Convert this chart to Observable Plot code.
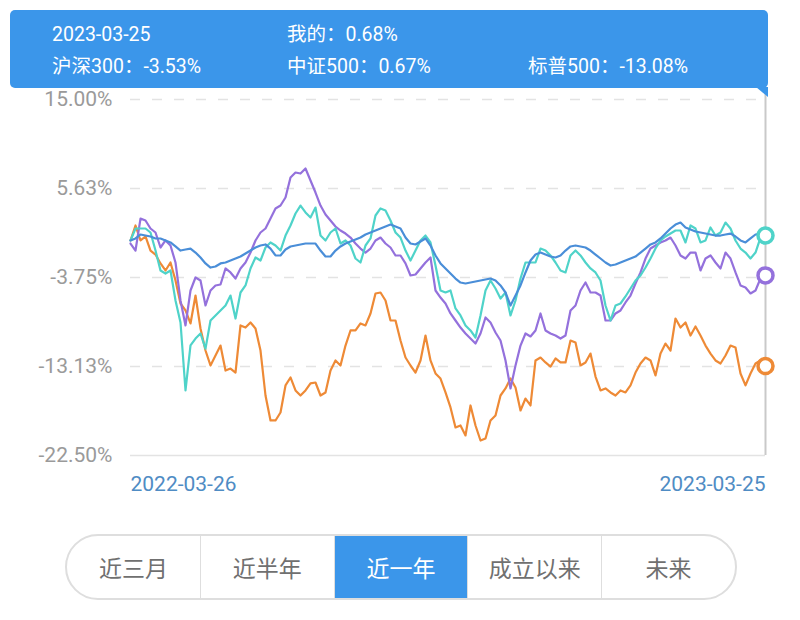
<!DOCTYPE html>
<html><head><meta charset="utf-8">
<script src="https://cdn.jsdelivr.net/npm/d3@7"></script>
<script src="https://cdn.jsdelivr.net/npm/@observablehq/plot@0.6"></script>
<style>
body{margin:0;background:#fff;font-family:Roboto,"Noto Sans CJK SC",sans-serif;}
#wrap{position:relative;width:800px;height:620px;overflow:hidden;background:#fff;}
#chart{position:absolute;left:0;top:0;}
#tip{position:absolute;left:10px;top:10px;width:758px;height:78px;background:#3b96ea;border-radius:5px;color:#fff;font-size:19.5px;z-index:2;}
#tip span{position:absolute;white-space:nowrap;line-height:20px;}
#tail{position:absolute;left:756px;top:87px;width:12px;height:10px;background:#3b96ea;clip-path:polygon(0 0,100% 0,100% 100%);z-index:2;}
#seg{position:absolute;left:65px;top:534px;width:672px;height:66px;border:2px solid #dedede;border-radius:33px;display:flex;overflow:hidden;box-sizing:border-box;}
#seg div{flex:1;display:flex;align-items:center;justify-content:center;font-size:23px;color:#707070;font-family:"Noto Sans CJK SC",sans-serif;border-left:1.5px solid #dedede;}
#seg div:first-child{border-left:none;}
#seg div.on{background:#3b96ea;color:#fff;}
</style></head>
<body><div id="wrap">
<div id="chart"></div>
<div id="tip"></div><div id="tail"></div>
<div id="seg"></div>
</div>
<script>
// ---- data ----
const startDate = "2022-03-26";
const endDate = "2023-03-25";
const tipDate = "2023-03-25";
const seriesNames = ["我的", "沪深300", "中证500", "标普500"];
const seriesColors = ["#4a8ed8", "#9471dc", "#4fd3c9", "#ee8a36"];
const finalValues = [0.68, -3.53, 0.67, -13.08];
const yTicks = [15.00, 5.63, -3.75, -13.13, -22.50];
const periodButtons = ["近三月", "近半年", "近一年", "成立以来", "未来"];
const activeButton = "近一年";

const mine = [0.15,0.36,0.78,0.67,0.57,0.36,0.36,0.15,-0.06,-0.48,
 -0.91,-0.8,-0.7,-1.12,-1.64,-2.27,-2.7,-2.59,-2.27,-2.17,
 -1.96,-1.75,-1.54,-1.22,-0.91,-0.59,-0.38,-0.27,-0.7,-1.43,
 -1.43,-0.8,-0.48,-0.38,-0.27,-0.17,-0.17,-0.17,-0.91,-1.54,
 -1.54,-0.91,-0.48,-0.17,0.04,0.25,0.46,0.78,0.99,1.2,
 1.41,1.62,1.83,1.62,1.41,0.46,-0.17,-0.27,0.04,0.36,
 -0.38,-1.43,-2.27,-2.8,-3.33,-3.86,-4.28,-4.38,-4.28,-4.17,
 -4.07,-3.96,-3.86,-4.07,-4.59,-5.33,-6.7,-5.65,-4.59,-3.22,
 -1.96,-1.33,-1.12,-1.33,-1.54,-1.64,-1.43,-0.91,-0.48,-0.38,
 -0.48,-0.59,-0.91,-1.33,-1.75,-2.17,-2.49,-2.38,-2.17,-1.96,
 -1.75,-1.54,-1.12,-0.7,-0.27,-0.06,0.36,0.88,1.41,1.83,
 2.04,1.52,1.31,1.1,0.99,0.88,0.78,0.67,0.67,0.78,
 0.88,0.57,0.15,-0.06,0.36,0.78,0.88,0.68];

const hs300 = [-0.17,-0.91,2.46,2.25,1.41,0.99,-0.59,0.15,-0.38,-2.17,
 -6.17,-8.8,-5.12,-3.75,-4.07,-6.7,-5.12,-4.59,-4.49,-2.8,
 -3.22,-3.86,-2.8,-2.17,-1.12,0.15,0.99,1.41,2.46,3.52,
 3.83,4.68,6.78,7.31,7.2,7.73,6.47,5.2,3.83,2.89,
 2.25,1.62,1.2,0.88,0.46,-0.17,-0.7,-1.12,-0.7,0.15,
 0.46,-0.17,-0.59,-1.43,-1.43,-2.27,-3.54,-3.43,-2.8,-2.17,
 -1.64,-5.12,-5.86,-6.49,-7.54,-8.28,-9.02,-9.65,-10.18,-10.71,
 -9.65,-7.96,-8.49,-9.54,-10.39,-12.49,-15.44,-13.02,-10.92,-9.65,
 -9.96,-9.33,-7.54,-9.33,-9.65,-9.86,-10.18,-9.86,-7.22,-6.7,
 -5.12,-4.28,-5.33,-5.33,-5.65,-8.28,-8.28,-7.54,-7.22,-6.38,
 -5.65,-4.38,-3.22,-1.75,-0.7,-0.38,-0.06,0.15,0.46,-0.38,
 -1.43,-1.75,-1.12,-1.12,-3.01,-1.75,-1.43,-2.17,-2.8,-1.12,
 -1.75,-3.22,-4.59,-4.8,-5.43,-5.12,-3.86,-3.53];

const zz500 = [0.15,1.41,1.41,1.41,0.99,-0.91,-3.01,-3.33,-3.01,-6.17,
 -8.49,-15.65,-10.9,-10.18,-9.65,-11.24,-8.28,-7.75,-7.22,-6.7,
 -5.65,-8.07,-5.33,-4.59,-2.8,-1.64,-1.96,-0.59,-0.06,-0.38,
 -0.91,0.67,1.73,2.99,3.83,3.1,2.57,3.62,0.67,0.15,
 0.99,1.41,-0.17,0.15,-0.38,-1.75,-2.17,-0.38,0.36,2.78,
 3.52,3.31,2.25,0.99,0.46,-0.91,-1.96,-0.91,0.15,0.67,
 -0.06,-2.49,-5.12,-5.33,-5.12,-7.01,-7.75,-8.8,-9.33,-10.07,
 -7.75,-5.12,-4.07,-4.91,-5.96,-5.33,-7.75,-6.17,-3.86,-2.17,
 -2.17,-2.17,-0.7,-0.91,-1.43,-2.17,-3.01,-3.22,-1.43,-0.91,
 -1.43,-2.17,-2.8,-3.22,-4.07,-6.7,-8.28,-6.7,-6.49,-5.75,
 -4.91,-4.07,-3.54,-2.7,-1.75,-0.7,0.15,0.57,0.88,1.2,
 1.2,-0.06,1.73,1.41,-0.06,0.15,1.52,0.67,0.99,2.04,
 1.41,0.15,-0.7,-1.12,-1.75,-1.12,0.46,0.67];

const sp500 = [0.15,1.73,0.15,0.57,-0.91,-1.33,-2.27,-3.01,-2.17,-4.07,
 -6.49,-7.22,-8.59,-5.65,-9.12,-11.44,-13.02,-11.97,-10.92,-13.55,
 -13.34,-13.76,-8.8,-9.02,-8.49,-9.12,-11.44,-16.18,-18.81,-18.81,
 -17.97,-15.12,-14.28,-15.65,-16.18,-15.65,-14.91,-14.81,-16.18,-15.86,
 -13.55,-12.49,-13.02,-10.92,-9.33,-9.33,-8.59,-8.8,-7.54,-5.44,
 -5.33,-6.17,-8.28,-8.28,-10.39,-12.18,-13.02,-13.76,-12.49,-9.86,
 -12.49,-13.86,-14.39,-15.86,-17.44,-19.55,-19.34,-20.39,-17.23,-19.34,
 -20.92,-20.71,-18.81,-18.29,-16.18,-15.44,-14.39,-15.34,-17.76,-16.5,
 -17.23,-12.49,-12.18,-12.7,-13.13,-12.28,-12.7,-12.7,-10.39,-10.6,
 -13.02,-12.7,-11.76,-14.18,-15.65,-15.44,-15.86,-16.18,-15.65,-15.86,
 -15.12,-13.76,-12.81,-12.18,-12.49,-14.07,-11.76,-10.71,-11.44,-8.07,
 -9.02,-8.49,-9.86,-8.91,-9.86,-10.92,-11.76,-12.49,-12.81,-11.97,
 -10.92,-11.13,-13.86,-15.12,-13.86,-12.81,-12.49,-13.08];

// ---- build table ----
const t0 = new Date(startDate + "T00:00:00Z"), t1 = new Date(endDate + "T00:00:00Z");
function rows(vals, name) {
  const n = vals.length;
  return vals.map((v, i) => ({date: new Date(+t0 + i * (t1 - t0) / (n - 1)), value: v, name}));
}
const seriesArrays = {"我的": mine, "沪深300": hs300, "中证500": zz500, "标普500": sp500};
const drawOrder = ["标普500", "沪深300", "中证500", "我的"];
const table = drawOrder.flatMap(n => rows(seriesArrays[n], n));
const endPoints = ["沪深300", "中证500", "标普500"].map(n => ({date: t1, value: seriesArrays[n][seriesArrays[n].length - 1], name: n}));
const pct = d => d.toFixed(2) + "%";
const fmtDate = d3.utcFormat("%Y-%m-%d");

const chart = Plot.plot({
  width: 800, height: 510,
  marginTop: 99, marginBottom: 55, marginLeft: 130, marginRight: 35,
  style: {fontFamily: "Roboto, sans-serif", background: "transparent"},
  x: {type: "utc", domain: [t0, t1], axis: null},
  y: {domain: [-22.5, 15], axis: null},
  color: {domain: seriesNames, range: seriesColors},
  marks: [
    Plot.ruleY(yTicks.slice(0, 4), {stroke: "#e3e3e3", strokeWidth: 1.5, strokeDasharray: "10,12"}),
    Plot.ruleY([yTicks[4]], {stroke: "#e3e3e3", strokeWidth: 1.5}),
    Plot.ruleX([t1], {stroke: "#c9c9c9", strokeWidth: 2, insetTop: -10}),
    Plot.axisY(yTicks, {tickSize: 0, tickPadding: 18, tickFormat: pct, fontSize: 21, color: "#9a9a9a", label: null}),
    Plot.axisX([t0], {tickSize: 0, tickPadding: 21, tickFormat: fmtDate, fontSize: 21, color: "#4f8cc4", textAnchor: "start", label: null}),
    Plot.axisX([t1], {tickSize: 0, tickPadding: 21, tickFormat: fmtDate, fontSize: 21, color: "#4f8cc4", textAnchor: "end", label: null}),
    Plot.line(table, {x: "date", y: "value", z: "name", stroke: "name", strokeWidth: 2.2, strokeLinejoin: "round"}),
    Plot.dot(endPoints, {x: "date", y: "value", stroke: "name", r: 7.5, strokeWidth: 3.5, fill: "white"})
  ]
});
document.getElementById("chart").appendChild(chart);

// tooltip
const tip = document.getElementById("tip");
const tipItems = [
  [tipDate, 42, 25],
  [seriesNames[0] + "：" + pct(finalValues[0]), 277, 25],
  [seriesNames[1] + "：" + pct(finalValues[1]), 42, 57],
  [seriesNames[2] + "：" + pct(finalValues[2]), 277, 57],
  [seriesNames[3] + "：" + pct(finalValues[3]), 518, 57]
];
for (const [t, x, y] of tipItems) {
  const s = document.createElement("span");
  s.textContent = t; s.style.left = x + "px"; s.style.top = (y - 10) + "px";
  tip.appendChild(s);
}
// buttons
const seg = document.getElementById("seg");
for (const b of periodButtons) {
  const d = document.createElement("div");
  d.textContent = b;
  if (b === activeButton) d.className = "on";
  seg.appendChild(d);
}
</script>
</body></html>
